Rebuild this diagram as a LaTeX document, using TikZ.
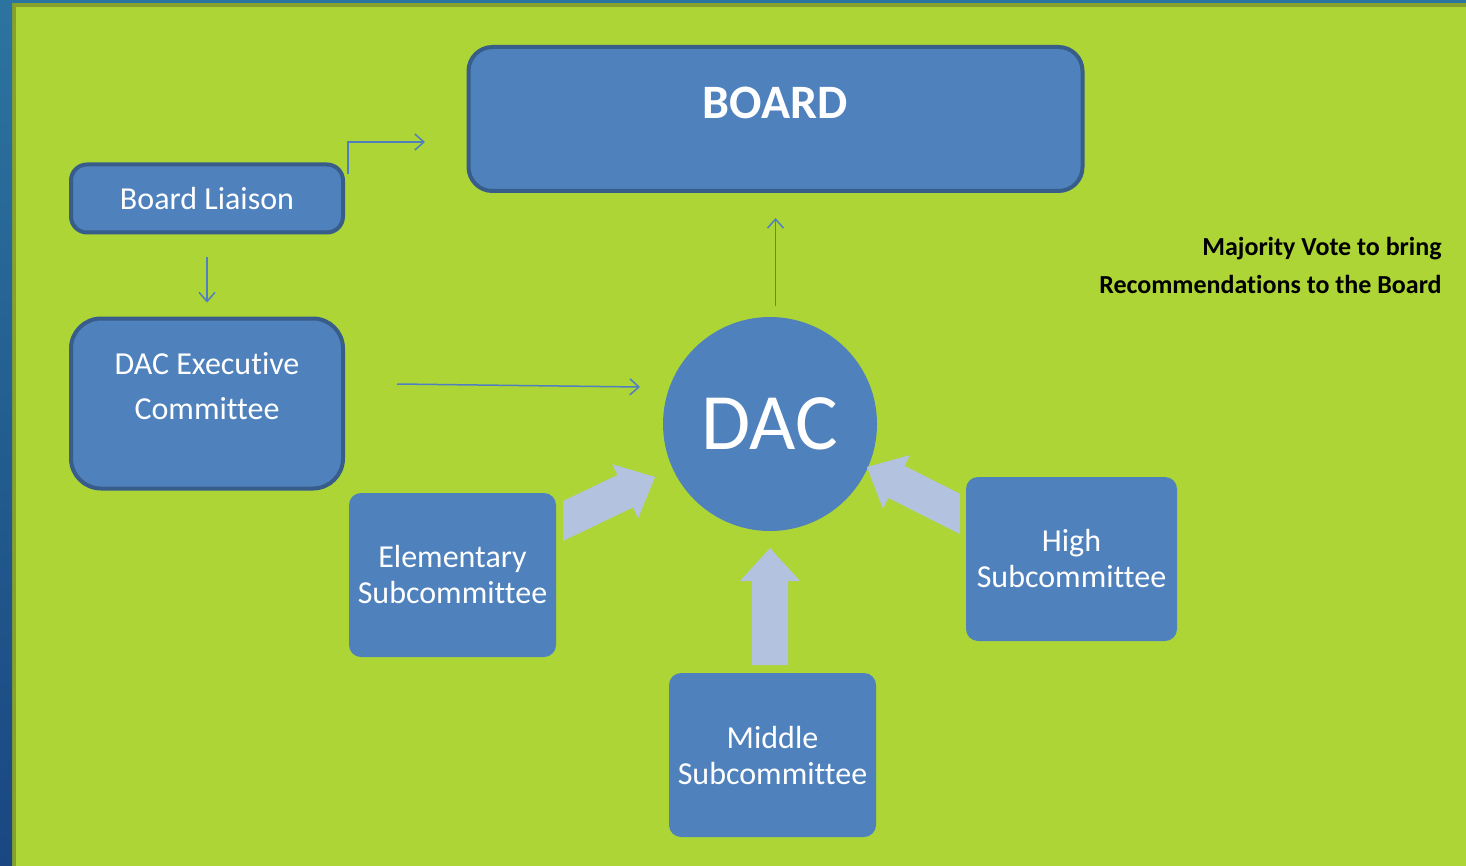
\documentclass[tikz,border=0pt]{standalone}
\usepackage{fontspec}
\setmainfont[Ligatures=NoCommon]{Carlito}
\usetikzlibrary{calc,arrows.meta}
\definecolor{bggreen}{HTML}{ADD535}
\definecolor{edgegreen}{HTML}{88A12A}
\definecolor{stripblueA}{HTML}{2C74A0}
\definecolor{stripblueB}{HTML}{1A4780}
\definecolor{boxblue}{HTML}{4F81BD}
\definecolor{boxedge}{HTML}{385D8A}
\definecolor{lightarrow}{HTML}{B3C3DF}
\definecolor{linkblue}{HTML}{4F7FC0}
% block arrow with tail cut perpendicular to the shaft
\newcommand\blockarrow[2]{%
  \fill[lightarrow] let \p1=(#1), \p2=(#2),
    \n1={veclen(\x2-\x1,\y2-\y1)}, \n2={(\x2-\x1)/\n1}, \n3={(\y2-\y1)/\n1} in
    ({\x1-9*\n3},{\y1+9*\n2})
    -- ({\x2-16.5*\n2-9*\n3},{\y2-16.5*\n3+9*\n2})
    -- ({\x2-16.5*\n2-15*\n3},{\y2-16.5*\n3+15*\n2})
    -- (\p2)
    -- ({\x2-16.5*\n2+15*\n3},{\y2-16.5*\n3-15*\n2})
    -- ({\x2-16.5*\n2+9*\n3},{\y2-16.5*\n3-9*\n2})
    -- ({\x1+9*\n3},{\y1-9*\n2}) -- cycle;}
% block arrow with tail cut vertically
\newcommand\blockarrowv[2]{%
  \fill[lightarrow] let \p1=(#1), \p2=(#2),
    \n1={veclen(\x2-\x1,\y2-\y1)}, \n2={(\x2-\x1)/\n1}, \n3={(\y2-\y1)/\n1} in
    (\x1,{\y1+9/\n2})
    -- ({\x2-16.5*\n2-9*\n3},{\y2-16.5*\n3+9*\n2})
    -- ({\x2-16.5*\n2-15*\n3},{\y2-16.5*\n3+15*\n2})
    -- (\p2)
    -- ({\x2-16.5*\n2+15*\n3},{\y2-16.5*\n3-15*\n2})
    -- ({\x2-16.5*\n2+9*\n3},{\y2-16.5*\n3-9*\n2})
    -- (\x1,{\y1-9/\n2}) -- cycle;}
\begin{document}
\begin{tikzpicture}[x=0.5pt,y=-0.5pt,
  framebox/.style={draw=boxedge,line width=2pt,fill=boxblue,text=white,align=center,inner sep=0pt},
  subbox/.style={fill=boxblue,text=white,align=center,inner sep=0pt,rounded corners=6pt,
    minimum width=103.5pt,minimum height=82pt,font=\fontsize{16}{18}\selectfont},
  linkarrow/.style={draw=linkblue,line width=0.75pt,-{Straight Barb[length=4.5pt,width=8pt]}}]
\useasboundingbox (0,0) rectangle (1466,866);
% background
\fill[bggreen] (0,0) rectangle (1466,866);
\fill[edgegreen] (12,3) rectangle (1466,7);
\fill[edgegreen] (12,3) rectangle (16,866);
\shade[top color=stripblueA,bottom color=stripblueB] (0,0) rectangle (12,866);
\fill[stripblueA] (12,0) rectangle (1466,3);
% boxes
\node[framebox,rounded corners=12pt,minimum width=307pt,minimum height=72pt] (board) at (775.5,119) {};
\node[text=white,font=\fontsize{24}{28}\selectfont\bfseries] (boardtxt) at (775,103) {BOARD};
\node[framebox,rounded corners=8pt,minimum width=136pt,minimum height=34pt,font=\fontsize{16}{18}\selectfont] (liaison) at (207,198.5) {Board Liaison};
\node[framebox,rounded corners=15pt,minimum width=136pt,minimum height=85pt] (exec) at (207,403.5) {};
\node[text=white,align=center,font=\fontsize{16}{22.5}\selectfont] (exectxt) at (207,386) {DAC Executive\\Committee};
\node[circle,fill=boxblue,minimum size=107pt,inner sep=0pt,text=white,font=\fontsize{40}{44}\selectfont] (dac) at (770,424) {DAC};
\node[subbox] (elem) at (452.5,575) {Elementary\\Subcommittee};
\node[subbox,minimum width=105.5pt] (high) at (1071.5,559) {High\\Subcommittee};
\node[subbox] (middle) at (772.5,755) {Middle\\Subcommittee};
\node[anchor=east,align=right,inner sep=0pt,font=\fontsize{13}{19}\selectfont\bfseries,text=black] (note) at (1442,265) {Majority Vote to bring\\Recommendations to the Board};
% thin arrows
\coordinate (lstart) at ($(liaison.north east)+(3,12)$);
\coordinate (lend) at (425,142);
\draw[linkarrow] (lstart) |- (lend);
\draw[linkarrow,shorten <=11.5pt,shorten >=7pt] (liaison.south) -- (exec.north);
\coordinate (xa) at (397,384);
\coordinate (xb) at (640,387);
\draw[linkarrow] (xa) -- (xb);
\draw[linkarrow,shorten <=5.5pt,shorten >=12.5pt] (board.south |- dac.north) -- (board.south);
% block arrows
\coordinate (ea) at (563,521);
\coordinate (eb) at (655,477);
\blockarrowv{ea}{eb}
\coordinate (ma) at (770,665);
\coordinate (mb) at (770,548);
\blockarrow{ma}{mb}
\coordinate (ha) at (960,514);
\coordinate (hb) at (867,467);
\blockarrowv{ha}{hb}
\end{tikzpicture}
\end{document}
